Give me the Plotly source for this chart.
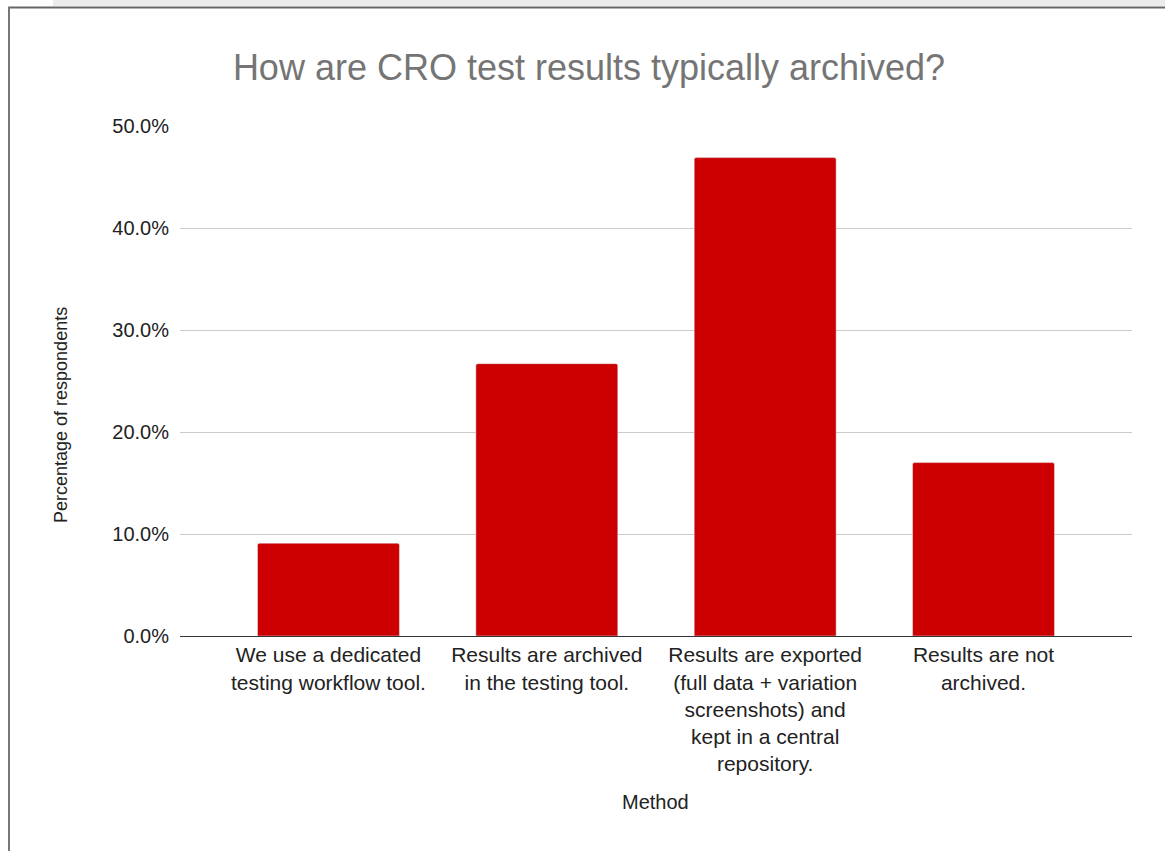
import plotly.graph_objects as go

# Survey results: how CRO test results are archived
methods = [
    "We use a dedicated<br>testing workflow tool.",
    "Results are archived<br>in the testing tool.",
    "Results are exported<br>(full data + variation<br>screenshots) and<br>kept in a central<br>repository.",
    "Results are not<br>archived.",
]
share = [9.1, 26.7, 46.9, 17.0]  # percent of respondents
y_ticks = [0, 10, 20, 30, 40, 50]
y_labels = [f"{v:.1f}%" for v in y_ticks]

W, H = 1165, 851
L, R, T, B = 180, 33, 126, 215  # plot area margins in px
pw, ph = W - L - R, H - T - B


def px_x(x):  # pixel -> paper x
    return (x - L) / pw


def px_y(y):  # pixel -> paper y
    return (H - B - y) / ph


font = "Arial, Liberation Sans, sans-serif"

fig = go.Figure(go.Bar(
    x=list(range(len(methods))),
    y=share,
    marker=dict(color="#cc0000", cornerradius=2),
    hovertemplate="%{y:.1f}%<extra></extra>",
))

fig.update_layout(
    width=W, height=H,
    margin=dict(l=L, r=R, t=T, b=B),
    paper_bgcolor="white", plot_bgcolor="white",
    bargap=0.35,
    showlegend=False,
    font=dict(family=font, color="#222222", size=21),
    title=dict(text="How are CRO test results typically archived?",
               x=589 / W, xanchor="center", xref="container",
               y=1 - 67 / H, yanchor="middle", yref="container",
               font=dict(size=36, color="#757575", family=font)),
)

fig.update_xaxes(
    tickmode="array", tickvals=list(range(len(methods))), ticktext=methods,
    range=[-0.68, len(methods) - 1 + 0.68],
    showgrid=False, showline=True, linecolor="#333333", linewidth=1,
    ticks="", tickfont=dict(size=21, color="#222222"),
)
fig.update_yaxes(
    range=[0, 50], tickmode="array", tickvals=y_ticks, ticktext=y_labels,
    showgrid=True, gridcolor="#cccccc", gridwidth=1,
    zeroline=False, showline=False, ticks="",
    ticklabelstandoff=10,
    tickfont=dict(size=20, color="#222222"),
)

# axis titles placed like the original
fig.add_annotation(text="Percentage of respondents", textangle=-90,
                   xref="paper", yref="paper", x=px_x(61), y=px_y(415),
                   xanchor="center", yanchor="middle",
                   showarrow=False, font=dict(size=18, color="#222222"))
fig.add_annotation(text="Method", xref="paper", yref="paper",
                   x=px_x(655), y=px_y(802), xanchor="center", yanchor="middle",
                   showarrow=False, font=dict(size=20, color="#222222"))

# page frame around the chart (screenshot edges)
fig.add_shape(type="rect", xref="paper", yref="paper",
              x0=px_x(53), x1=px_x(W), y0=px_y(6), y1=px_y(0),
              fillcolor="#ebebeb", line_width=0, layer="below")
fig.add_shape(type="line", xref="paper", yref="paper",
              x0=px_x(8), x1=px_x(W), y0=px_y(7.5), y1=px_y(7.5),
              line=dict(color="#666666", width=2))
fig.add_shape(type="line", xref="paper", yref="paper",
              x0=px_x(9), x1=px_x(9), y0=px_y(7), y1=px_y(H),
              line=dict(color="#777777", width=2))

# drop the default 8px page margin so the figure sits at the window corner
fig.write_html("out.html", config={"displayModeBar": False},
               post_script="document.body.style.margin='0';document.body.style.overflow='hidden';")
